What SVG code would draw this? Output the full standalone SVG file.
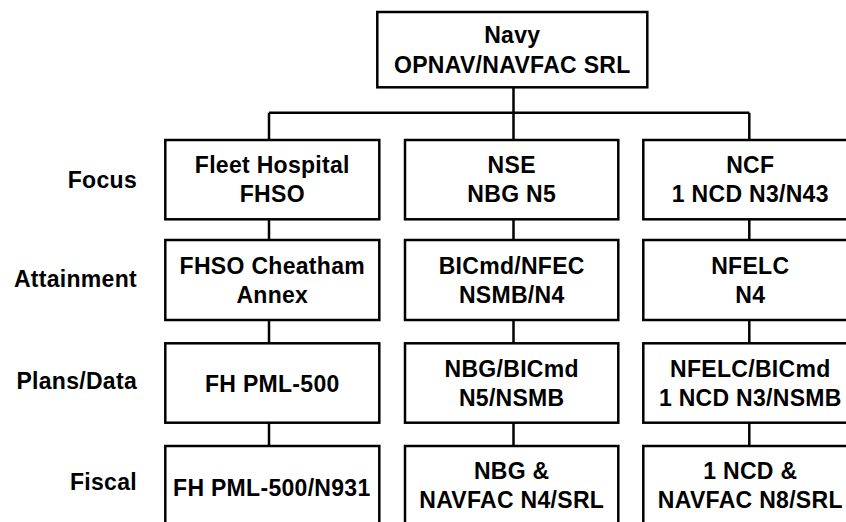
<svg xmlns="http://www.w3.org/2000/svg" width="846" height="522" viewBox="0 0 846 522">
<style>
.box{fill:#fff;stroke:#000;stroke-width:2.5}
.conn{fill:none;stroke:#000;stroke-width:2.5}
text{font-family:"Liberation Sans",Arial,Helvetica,sans-serif;font-weight:bold;font-size:23px;fill:#000;letter-spacing:0.3px}
.c{text-anchor:middle}
.lbl{text-anchor:end}
</style>
<rect width="846" height="522" fill="#fff"/>
<g id="connectors">
<path class="conn" d="M513.5 87.3V112.7M269 112.7H749.3M269 112.7V140M513.5 112.7V140M749.3 112.7V140"/>
<path class="conn" d="M269 219.3V240M513.5 219.3V240M749.3 219.3V240"/>
<path class="conn" d="M269 320V343.3M513.5 320V343.3M749.3 320V343.3"/>
<path class="conn" d="M269 422.7V446M513.5 422.7V446M749.3 422.7V446"/>
</g>
<g id="labels">
<text class="lbl" x="137" y="188">Focus</text>
<text class="lbl" x="137" y="287.3">Attainment</text>
<text class="lbl" x="137" y="388.5">Plans/Data</text>
<text class="lbl" x="137" y="490">Fiscal</text>
</g>
<g id="navy">
<rect class="box" x="377.3" y="12" width="270" height="75.3"/>
<text class="c" x="512.3" y="43.3">Navy</text>
<text class="c" x="512.3" y="72.5">OPNAV/NAVFAC SRL</text>
</g>
<g id="fleet-hospital">
<rect class="box" x="165.3" y="140" width="214" height="79.3"/>
<text class="c" x="272.3" y="173.3">Fleet Hospital</text>
<text class="c" x="272.3" y="202.4">FHSO</text>
</g>
<g id="nse">
<rect class="box" x="405" y="140" width="213.3" height="79.3"/>
<text class="c" x="511.7" y="173.3">NSE</text>
<text class="c" x="511.7" y="202.4">NBG N5</text>
</g>
<g id="ncf">
<rect class="box" x="643.3" y="140" width="214" height="79.3"/>
<text class="c" x="750.3" y="173.3">NCF</text>
<text class="c" x="750.3" y="202.4">1 NCD N3/N43</text>
</g>
<g id="fhso-cheatham">
<rect class="box" x="165.3" y="240" width="214" height="80"/>
<text class="c" x="272.3" y="273.5">FHSO Cheatham</text>
<text class="c" x="272.3" y="302.6">Annex</text>
</g>
<g id="bicmd-nfec">
<rect class="box" x="405" y="240" width="213.3" height="80"/>
<text class="c" x="511.7" y="273.5">BICmd/NFEC</text>
<text class="c" x="511.7" y="302.6">NSMB/N4</text>
</g>
<g id="nfelc">
<rect class="box" x="643.3" y="240" width="214" height="80"/>
<text class="c" x="750.3" y="273.5">NFELC</text>
<text class="c" x="750.3" y="302.6">N4</text>
</g>
<g id="fh-pml-500">
<rect class="box" x="165.3" y="343.3" width="214" height="79.4"/>
<text class="c" x="272.3" y="391.5">FH PML-500</text>
</g>
<g id="nbg-bicmd">
<rect class="box" x="405" y="343.3" width="213.3" height="79.4"/>
<text class="c" x="511.7" y="376.6">NBG/BICmd</text>
<text class="c" x="511.7" y="405.7">N5/NSMB</text>
</g>
<g id="nfelc-bicmd">
<rect class="box" x="643.3" y="343.3" width="214" height="79.4"/>
<text class="c" x="750.3" y="376.6">NFELC/BICmd</text>
<text class="c" x="750.3" y="405.7">1 NCD N3/NSMB</text>
</g>
<g id="fh-pml-500-n931">
<rect class="box" x="165.3" y="446" width="214" height="80"/>
<text class="c" x="271.8" y="495.5">FH PML-500/N931</text>
</g>
<g id="nbg-navfac">
<rect class="box" x="405" y="446" width="213.3" height="80"/>
<text class="c" x="511.7" y="479.3">NBG &amp;</text>
<text class="c" x="511.7" y="508.4">NAVFAC N4/SRL</text>
</g>
<g id="ncd-navfac">
<rect class="box" x="643.3" y="446" width="214" height="80"/>
<text class="c" x="750.3" y="479.3">1 NCD &amp;</text>
<text class="c" x="750.3" y="508.4">NAVFAC N8/SRL</text>
</g>
</svg>
